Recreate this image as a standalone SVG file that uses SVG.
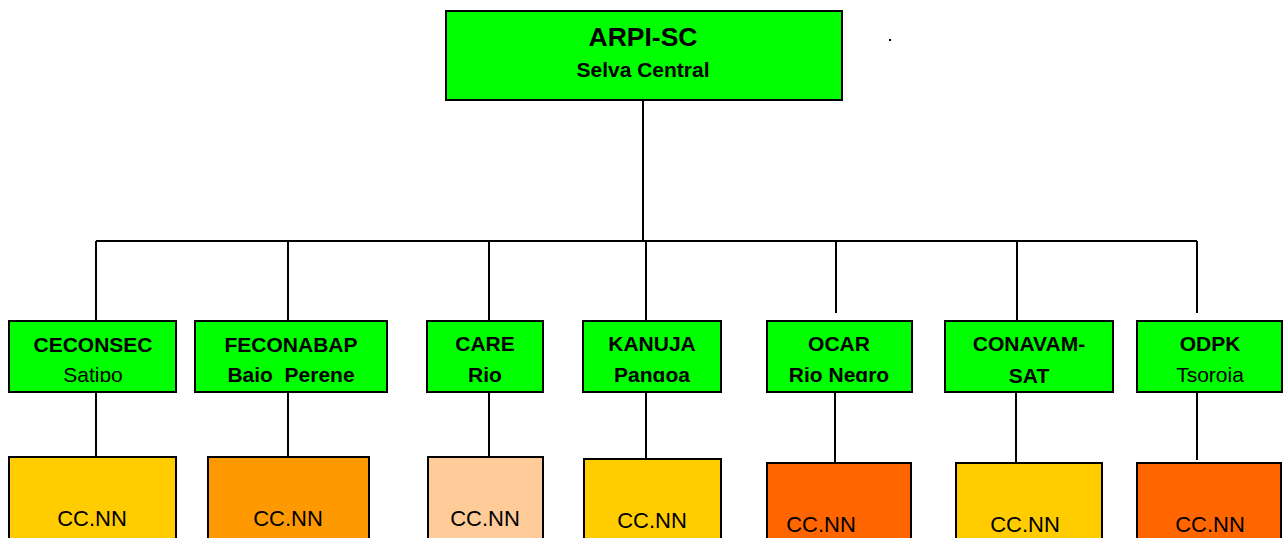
<svg xmlns="http://www.w3.org/2000/svg" width="1285" height="538" viewBox="0 0 1285 538">
<style>
.box{stroke:#000;stroke-width:2}
.g{fill:#00ff00}
.y{fill:#ffcc00}
.o{fill:#ff9900}
.p{fill:#ffcc99}
.r{fill:#ff6600}
.t{font-family:"Liberation Sans",Arial,sans-serif;font-size:21px;fill:#000;text-anchor:middle}
.b{font-weight:bold}
.n{font-size:22px}
.c{stroke:#000;stroke-width:2;fill:none}
</style>
<defs>
<clipPath id="c1"><rect x="9" y="322" width="167" height="60"/></clipPath>
<clipPath id="c2"><rect x="196" y="322" width="191" height="60"/></clipPath>
<clipPath id="c3"><rect x="428" y="322" width="115" height="60"/></clipPath>
<clipPath id="c4"><rect x="584" y="322" width="137" height="60"/></clipPath>
<clipPath id="c5"><rect x="768" y="322" width="144" height="60"/></clipPath>
<clipPath id="c6"><rect x="946" y="322" width="167" height="61"/></clipPath>
<clipPath id="c7"><rect x="1138" y="322" width="144" height="60"/></clipPath>
</defs>
<g id="connectors">
<path class="c" d="M643 100V241M96 241H1197M96 241V321M288 241V321M489 241V321M646 241V321M836 241V313M1017 241V321M1197 241V313"/>
<path class="c" d="M96 392V457M288 392V457M489 392V457M646 392V459M835 392V463M1016 392V463M1197 392V460"/>
</g>
<g id="n-arpi">
<rect class="box g" x="446" y="11" width="396" height="89"/>
<text class="t b" x="643" y="46" style="font-size:26.5px">ARPI-SC</text>
<text class="t b" x="643" y="77" style="font-size:21px">Selva Central</text>
</g>
<rect x="889" y="39" width="2" height="2" fill="#000"/>
<g id="n-ceconsec">
<rect class="box g" x="9" y="321" width="167" height="71"/>
<g clip-path="url(#c1)">
<text class="t b" x="93" y="352">CECONSEC</text>
<text class="t" x="93" y="382">Satipo</text>
</g>
</g>
<g id="n-feconabap">
<rect class="box g" x="195" y="321" width="192" height="71"/>
<g clip-path="url(#c2)">
<text class="t b" x="291" y="352">FECONABAP</text>
<text class="t b" x="291" y="382" xml:space="preserve">Bajo  Perene</text>
</g>
</g>
<g id="n-care">
<rect class="box g" x="427" y="321" width="116" height="71"/>
<g clip-path="url(#c3)">
<text class="t b" x="485" y="351">CARE</text>
<text class="t b" x="485" y="382">Rio</text>
</g>
</g>
<g id="n-kanuja">
<rect class="box g" x="583" y="321" width="138" height="71"/>
<g clip-path="url(#c4)">
<text class="t b" x="652" y="351">KANUJA</text>
<text class="t b" x="652" y="382">Pangoa</text>
</g>
</g>
<g id="n-ocar">
<rect class="box g" x="767" y="321" width="145" height="71"/>
<g clip-path="url(#c5)">
<text class="t b" x="839" y="351">OCAR</text>
<text class="t b" x="839" y="382">Rio Negro</text>
</g>
</g>
<g id="n-conavam">
<rect class="box g" x="945" y="321" width="168" height="71"/>
<g clip-path="url(#c6)">
<text class="t b" x="1029" y="351">CONAVAM-</text>
<text class="t b" x="1029" y="383">SAT</text>
</g>
</g>
<g id="n-odpk">
<rect class="box g" x="1137" y="321" width="145" height="71"/>
<g clip-path="url(#c7)">
<text class="t b" x="1210" y="351">ODPK</text>
<text class="t" x="1210" y="382">Tsoroja</text>
</g>
</g>
<g id="cc1"><rect class="box y" x="9" y="457" width="167" height="90"/><text class="t n" x="92" y="526">CC.NN</text></g>
<g id="cc2"><rect class="box o" x="208" y="457" width="161" height="90"/><text class="t n" x="288" y="526">CC.NN</text></g>
<g id="cc3"><rect class="box p" x="428" y="457" width="115" height="90"/><text class="t n" x="485" y="526">CC.NN</text></g>
<g id="cc4"><rect class="box y" x="584" y="459" width="137" height="90"/><text class="t n" x="652" y="528">CC.NN</text></g>
<g id="cc5"><rect class="box r" x="767" y="463" width="144" height="90"/><text class="t n" x="821" y="532">CC.NN</text></g>
<g id="cc6"><rect class="box y" x="956" y="463" width="146" height="90"/><text class="t n" x="1025" y="532">CC.NN</text></g>
<g id="cc7"><rect class="box r" x="1137" y="463" width="144" height="90"/><text class="t n" x="1210" y="532">CC.NN</text></g>
</svg>
